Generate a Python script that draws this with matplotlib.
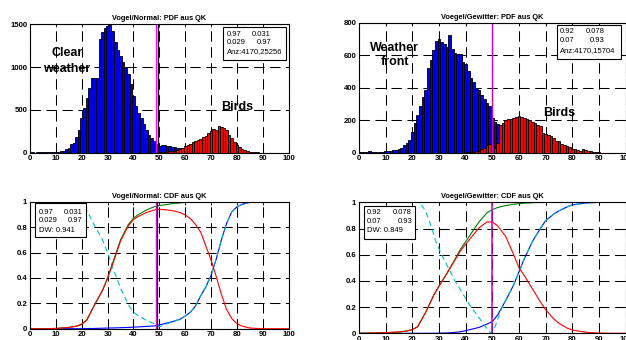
import numpy as np
import matplotlib
matplotlib.use("Agg")
import matplotlib.pyplot as plt
from matplotlib.patches import Rectangle

plt.rcParams['font.family'] = ['Liberation Sans', 'DejaVu Sans']
plt.rcParams['lines.scale_dashes'] = False

# --- PDF histograms (counts per bin, bins of width 1) ---
bins_blue = list(range(0, 76))
normal_blue = [2, 3, 2, 3, 4, 3, 4, 5, 4, 5,
               8, 12, 18, 25, 40, 60, 105, 110, 180, 270,
               410, 520, 640, 760, 868, 868, 868, 1330, 1410, 1460,
               1475, 1495, 1420, 1290, 1195, 1135, 1057, 998, 920, 800,
               664, 546, 468, 409, 330, 271, 212, 173, 134, 102,
               80, 90, 85, 80, 75, 70, 65, 60, 55, 50,
               45, 40, 35, 30, 25, 20, 15, 12, 10, 8,
               5, 4, 3, 2, 2, 1]
bins_red = list(range(50, 91))
normal_red = [3, 5, 8, 12, 15, 20, 25, 35, 45, 60,
              80, 90, 100, 120, 140, 150, 160, 180, 200, 230,
              250, 280, 270, 310, 300, 285, 265, 210, 170, 130,
              90, 65, 45, 30, 20, 12, 8, 5, 3, 2, 1]

gew_blue = [3, 5, 4, 6, 8, 5, 4, 6, 7, 5,
            10, 12, 12, 15, 18, 22, 30, 45, 60, 80,
            125, 180, 230, 290, 345, 385, 520, 570, 630, 690,
            698, 680, 670, 648, 722, 640, 615, 610, 605, 560,
            545, 505, 460, 435, 400, 385, 355, 330, 305, 285,
            211, 190, 175, 168, 129, 118, 98, 85, 55, 38,
            28, 22, 18, 15, 12, 10, 8, 7, 6, 5,
            4, 3, 3, 2, 2, 1]
bins_red_g = list(range(40, 91))
gew_red = [2, 3, 4, 5, 8, 10, 20, 30, 45, 55,
           40, 30, 60, 170, 185, 200, 205, 210, 215, 220,
           226, 222, 215, 210, 200, 190, 185, 170, 165, 120,
           115, 110, 105, 90, 75, 70, 55, 50, 40, 35,
           25, 20, 15, 12, 22, 15, 10, 8, 5, 5, 3]

# --- CDF curves ---
x_l = [0, 5, 10, 15, 18, 20, 22, 25, 28, 30, 32, 35, 38, 40, 42, 45, 48, 50, 52,
       55, 58, 60, 62, 64, 66, 68, 70, 72, 74, 76, 78, 80, 82, 85, 90, 95, 100]
green_l = [0, 0, 0.002, 0.01, 0.02, 0.035, 0.07, 0.19, 0.3, 0.4, 0.52, 0.7, 0.82,
           0.87, 0.9, 0.935, 0.96, 0.97, 0.975, 0.985, 0.99, 0.995, 0.997, 1, 1,
           1, 1, 1, 1, 1, 1, 1, 1, 1, 1, 1, 1]
red_l = [0, 0, 0.002, 0.01, 0.02, 0.035, 0.07, 0.19, 0.3, 0.4, 0.51, 0.69, 0.81,
         0.86, 0.885, 0.915, 0.935, 0.94, 0.937, 0.93, 0.915, 0.895, 0.867, 0.82,
         0.76, 0.65, 0.54, 0.41, 0.27, 0.15, 0.08, 0.04, 0.02, 0.005, 0, 0, 0]
blue_l = [0, 0, 0, 0, 0, 0, 0.001, 0.002, 0.004, 0.005, 0.006, 0.008, 0.01, 0.012,
          0.014, 0.018, 0.022, 0.03, 0.04, 0.055, 0.075, 0.1, 0.13, 0.18, 0.26,
          0.33, 0.42, 0.55, 0.7, 0.83, 0.92, 0.96, 0.98, 0.995, 1, 1, 1]
cyan_l = [1, 1, 1, 0.99, 0.98, 0.965, 0.93, 0.81, 0.7, 0.6, 0.48, 0.32, 0.19, 0.13,
          0.1, 0.065, 0.04, 0.015, 0.03, 0.055, 0.075, 0.1, 0.13, 0.18, 0.26, 0.33,
          0.42, 0.55, 0.7, 0.83, 0.92, 0.96, 0.98, 0.995, 1, 1, 1]

x_r = [0, 5, 10, 15, 18, 20, 22, 25, 28, 30, 33, 35, 38, 40, 42, 45, 48, 50, 52,
       55, 58, 60, 62, 65, 68, 70, 73, 75, 78, 80, 85, 90, 95, 100]
green_r = [0, 0.002, 0.005, 0.01, 0.018, 0.028, 0.05, 0.16, 0.29, 0.36, 0.46, 0.53,
           0.64, 0.7, 0.76, 0.85, 0.92, 0.945, 0.96, 0.975, 0.985, 0.99, 0.993,
           0.997, 0.999, 1, 1, 1, 1, 1, 1, 1, 1, 1]
red_r = [0, 0.002, 0.005, 0.01, 0.018, 0.028, 0.05, 0.16, 0.29, 0.36, 0.457, 0.525,
         0.628, 0.68, 0.73, 0.805, 0.85, 0.85, 0.82, 0.74, 0.6, 0.5, 0.44, 0.34,
         0.24, 0.18, 0.11, 0.076, 0.04, 0.025, 0.008, 0.002, 0, 0]
blue_r = [0, 0, 0, 0, 0, 0, 0, 0, 0, 0.001, 0.003, 0.005, 0.012, 0.02, 0.03, 0.045,
          0.07, 0.09, 0.14, 0.25, 0.37, 0.47, 0.57, 0.7, 0.8, 0.86, 0.91, 0.935,
          0.965, 0.98, 0.995, 1, 1, 1]
cyan_xr = [0, 22, 23.5, 25, 27, 29, 31, 33, 36, 39, 42, 45, 47, 49.5, 51, 53.5, 55,
           58, 60, 62, 65, 68, 70, 73, 75, 78, 80, 85, 90, 100]
cyan_r = [1, 1, 0.98, 0.93, 0.82, 0.69, 0.6, 0.52, 0.4, 0.3, 0.2, 0.12, 0.06, 0.0,
          0.05, 0.19, 0.25, 0.37, 0.47, 0.57, 0.7, 0.8, 0.86, 0.91, 0.935, 0.965,
          0.98, 0.995, 1, 1]

box_normal = ["0.97", "0.031", "0.029", "0.97"]
box_gew = ["0.92", "0.078", "0.07", "0.93"]

W, H = 626, 340
fig = plt.figure(figsize=(W / 100, H / 100), dpi=100)


def px_axes(left, top, right, bottom):
    return fig.add_axes([left / W, 1 - bottom / H, (right - left) / W, (bottom - top) / H])


def style(ax, title, yticks, ylabels):
    ax.set_xlim(0, 100)
    ax.set_ylim(yticks[0], yticks[-1])
    ax.set_xticks(range(0, 101, 10))
    ax.set_yticks(yticks)
    ax.set_yticklabels(ylabels)
    ax.tick_params(direction='in', length=2, width=0.6, labelsize=5.6, pad=2,
                   top=True, right=True)
    for lab in ax.get_xticklabels() + ax.get_yticklabels():
        lab.set_fontweight('bold')
    ax.grid(True, color='black', linestyle=(0, (7.5, 4)), linewidth=0.75)
    ax.set_axisbelow(True)
    for sp in ax.spines.values():
        sp.set_linewidth(0.8)
    ax.set_title(title, fontsize=5.3, fontweight='bold', pad=3)


def infobox(ax, x0, y0, x1, y1, vals, last, ys, xl, xr):
    ax.add_patch(Rectangle((x0, y0), x1 - x0, y1 - y0, transform=ax.transAxes,
                           facecolor='white', edgecolor='black', lw=0.8, zorder=10))
    kw = dict(transform=ax.transAxes, fontsize=5.5, va='center', zorder=11)
    ax.text(xl, ys[0], vals[0], ha='left', **kw)
    ax.text(xr, ys[0], vals[1], ha='right', **kw)
    ax.text(xl, ys[1], vals[2], ha='left', **kw)
    ax.text(xr, ys[1], vals[3], ha='right', **kw)
    ax.text(xl, ys[2], last, ha='left', **kw)


bar_kw = dict(width=1, edgecolor='black', lw=0.6)

# top left: Vogel/Normal PDF
ax1 = px_axes(30, 24.3, 288.7, 152.7)
ax1.bar(bins_blue, normal_blue, color='#0000ee', **bar_kw)
ax1.bar(bins_red, normal_red, color='#ff0000', **bar_kw)
ax1.axvline(48.6, color='#ff00ff', lw=1)
ax1.axvline(49.4, color='black', lw=0.9)
style(ax1, "Vogel/Normal: PDF aus QK", [0, 500, 1000, 1500], ['0', '500', '1000', '1500'])
ax1.text(14.2, 1165, "Clear", fontsize=9, fontweight='bold', ha='center', va='center')
ax1.text(14.2, 978, "weather", fontsize=9, fontweight='bold', ha='center', va='center')
ax1.text(79.9, 537, "Birds", fontsize=9, fontweight='bold', ha='center', va='center')
infobox(ax1, 0.745, 0.722, 0.99, 0.977, box_normal, "Anz:4170,25256",
        [0.924, 0.857, 0.787], 0.76, 0.932)

# top right: Voegel/Gewitter PDF
ax2 = px_axes(359, 22.7, 625.7, 152.7)
ax2.bar(bins_blue, gew_blue, color='#0000ee', **bar_kw)
ax2.bar(bins_red_g, gew_red, color='#ff0000', **bar_kw)
ax2.axvline(50, color='#cc00cc', lw=1)
style(ax2, "Voegel/Gewitter: PDF aus QK", [0, 200, 400, 600, 800],
      ['0', '200', '400', '600', '800'])
ax2.text(13.4, 646, "Weather", fontsize=9, fontweight='bold', ha='center', va='center')
ax2.text(13.4, 556, "front", fontsize=9, fontweight='bold', ha='center', va='center')
ax2.text(75, 246, "Birds", fontsize=9, fontweight='bold', ha='center', va='center')
infobox(ax2, 0.7435, 0.718, 0.9835, 0.982, box_gew, "Anz:4170,15704",
        [0.931, 0.862, 0.785], 0.754, 0.922)

cdf_ticks = [0, 0.2, 0.4, 0.6, 0.8, 1]
cdf_labels = ['0', '0.2', '0.4', '0.6', '0.8', '1']

# bottom left: Vogel/Normal CDF
ax3 = px_axes(30, 201.7, 288.7, 328.7)
ax3.plot(x_l, blue_l, color='#0000ff', lw=0.8)
ax3.plot(x_l, cyan_l, color='#00c0c0', lw=0.8, linestyle=(0, (4, 2.5)))
ax3.plot(x_l, green_l, color='#008000', lw=0.8)
ax3.plot(x_l, red_l, color='#ff0000', lw=0.8)
ax3.axvline(48.6, color='#ff00ff', lw=1)
ax3.axvline(49.2, color='black', lw=0.9)
style(ax3, "Vogel/Normal: CDF aus QK", cdf_ticks, cdf_labels)
infobox(ax3, 0.0193, 0.724, 0.2165, 0.987, box_normal, "DW: 0.941",
        [0.917, 0.850, 0.777], 0.033, 0.204)

# bottom right: Voegel/Gewitter CDF
ax4 = px_axes(359, 202.3, 625.7, 333.3)
ax4.plot(x_r, blue_r, color='#0000ff', lw=0.8)
ax4.plot(cyan_xr, cyan_r, color='#00c0c0', lw=0.8, linestyle=(0, (4, 2.5)))
ax4.plot(x_r, green_r, color='#008000', lw=0.8)
ax4.plot(x_r, red_r, color='#ff0000', lw=0.8)
ax4.axvline(50, color='#cc00cc', lw=1.1)
style(ax4, "Voegel/Gewitter: CDF aus QK", cdf_ticks, cdf_labels)
infobox(ax4, 0.0176, 0.718, 0.211, 0.972, box_gew, "DW: 0.849",
        [0.921, 0.852, 0.781], 0.030, 0.199)

fig.savefig("out.png", dpi=100)
